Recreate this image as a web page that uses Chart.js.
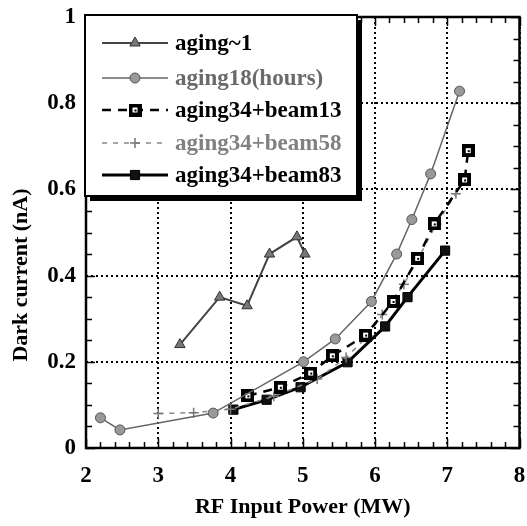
<!DOCTYPE html>
<html>
<head>
<meta charset="utf-8">
<script src="https://cdn.jsdelivr.net/npm/chart.js@4.4.1/dist/chart.umd.min.js"></script>
<style>
  html, body { margin: 0; padding: 0; background: #fff; }
  #wrap { width: 527px; height: 526px; }
</style>
</head>
<body>
<div id="wrap"><canvas id="chart" width="527" height="526"></canvas></div>
<script>
// values
const seriesNames = ['aging~1', 'aging18(hours)', 'aging34+beam13', 'aging34+beam58', 'aging34+beam83']

const aging1Power = [3.3, 3.85, 4.23, 4.54, 4.92, 5.03]
const aging1Current = [0.24, 0.35, 0.33, 0.45, 0.49, 0.45]

const aging18Power = [2.2, 2.47, 3.76, 5.01, 5.45, 5.95, 6.3, 6.51, 6.77, 7.17]
const aging18Current = [0.07, 0.042, 0.081, 0.2, 0.253, 0.34, 0.45, 0.53, 0.636, 0.828]

const beam13Power = [4.24, 4.69, 5.11, 5.41, 5.87, 6.25, 6.59, 6.82, 7.24, 7.29]
const beam13Current = [0.121, 0.141, 0.174, 0.214, 0.262, 0.34, 0.44, 0.52, 0.622, 0.69]

const beam58Power = [3.0, 3.49, 4.0, 4.6, 5.2, 5.6, 5.9, 6.1, 6.4, 6.6, 6.85, 7.12]
const beam58Current = [0.08, 0.082, 0.09, 0.12, 0.16, 0.21, 0.26, 0.31, 0.38, 0.44, 0.52, 0.59]

const beam83Power = [4.04, 4.5, 4.97, 5.62, 6.14, 6.45, 6.97]
const beam83Current = [0.089, 0.112, 0.141, 0.199, 0.282, 0.35, 0.458]

const xMin = 2, xMax = 8, xStep = 1, xMinor = 0.2
const yMin = 0, yMax = 1, yStep = 0.2, yMinor = 0.05

const FONT = "'Liberation Serif', 'Times New Roman', serif"

const toPoints = (xs, ys) => xs.map((x, i) => ({ x: x, y: ys[i] }))

// black square with a small white mark inside, like the beam13 symbol
const makeBoxMarker = () => {
  const c = document.createElement('canvas')
  c.width = 13
  c.height = 13
  const g = c.getContext('2d')
  g.fillStyle = '#000'
  g.fillRect(0, 0, 13, 13)
  g.fillStyle = '#fff'
  g.fillRect(4, 4, 5, 5)
  g.fillStyle = '#000'
  g.fillRect(6, 6, 2, 2)
  return c
}
const boxMarker = makeBoxMarker()

const frameAndTicks = {
  id: 'frameAndTicks',
  beforeDatasetsDraw(chart) {
    const { ctx, chartArea: a, scales } = chart
    const xs = scales.x, ys = scales.y
    ctx.save()
    ctx.strokeStyle = '#000'
    ctx.lineWidth = 1.5
    ctx.beginPath()
    for (let v = xMin; v <= xMax + 1e-9; v += xMinor) {
      const px = Math.round(xs.getPixelForValue(v)) + 0.5
      const major = Math.abs(v - Math.round(v)) < 1e-6
      const len = major ? 9 : 6
      ctx.moveTo(px, a.bottom); ctx.lineTo(px, a.bottom - len)
      ctx.moveTo(px, a.top); ctx.lineTo(px, a.top + len)
    }
    for (let v = yMin; v <= yMax + 1e-9; v += yMinor) {
      const py = Math.round(ys.getPixelForValue(v)) + 0.5
      const major = Math.abs(v / yStep - Math.round(v / yStep)) < 1e-6
      const len = major ? 9 : 6
      ctx.moveTo(a.left, py); ctx.lineTo(a.left + len, py)
      ctx.moveTo(a.right, py); ctx.lineTo(a.right - len, py)
    }
    ctx.stroke()
    ctx.lineWidth = 2.5
    ctx.strokeRect(a.left, a.top, a.right - a.left, a.bottom - a.top)
    ctx.restore()
  }
}

const boxLegend = {
  id: 'boxLegend',
  afterDatasetsDraw(chart) {
    const { ctx } = chart
    const bx = 85, by = 15, bw = 272, bh = 181
    ctx.save()
    ctx.fillStyle = '#000'
    ctx.fillRect(bx + 5, by + 5, bw, bh)
    ctx.fillStyle = '#fff'
    ctx.fillRect(bx, by, bw, bh)
    ctx.strokeStyle = '#000'
    ctx.lineWidth = 2
    ctx.strokeRect(bx, by, bw, bh)
    const rows = [43, 78, 110, 143, 175]
    const textColors = ['#000', '#6a6a6a', '#000', '#808080', '#000']
    chart.data.datasets.forEach((ds, i) => {
      const y = rows[i]
      ctx.save()
      ctx.strokeStyle = ds.borderColor
      ctx.lineWidth = ds.borderWidth
      ctx.setLineDash(ds.borderDash || [])
      ctx.beginPath()
      ctx.moveTo(102, y)
      ctx.lineTo(168, y)
      ctx.stroke()
      ctx.setLineDash([])
      ctx.fillStyle = ds.pointBackgroundColor
      ctx.strokeStyle = ds.pointBorderColor
      ctx.lineWidth = ds.pointBorderWidth
      Chart.helpers.drawPoint(ctx, {
        pointStyle: ds.pointStyle,
        radius: ds.pointRadius,
        rotation: 0,
        borderWidth: ds.pointBorderWidth
      }, 135, y)
      ctx.restore()
      ctx.fillStyle = textColors[i]
      ctx.font = 'bold 23px ' + FONT
      ctx.textBaseline = 'middle'
      ctx.textAlign = 'left'
      ctx.fillText(ds.label, 175, y + 1)
    })
    ctx.restore()
  }
}

const yTitle = {
  id: 'yTitle',
  afterDraw(chart) {
    const { ctx } = chart
    ctx.save()
    ctx.translate(21, 275)
    ctx.rotate(-Math.PI / 2)
    ctx.fillStyle = '#000'
    ctx.font = 'bold 22px ' + FONT
    ctx.textAlign = 'center'
    ctx.textBaseline = 'middle'
    ctx.fillText('Dark current (nA)', 0, 0)
    ctx.restore()
  }
}

new Chart(document.getElementById('chart'), {
  type: 'line',
  data: {
    datasets: [
      {
        label: seriesNames[0],
        data: toPoints(aging1Power, aging1Current),
        borderColor: '#444',
        borderWidth: 2,
        pointStyle: 'triangle',
        pointRadius: 6,
        pointBackgroundColor: '#777',
        pointBorderColor: '#333',
        pointBorderWidth: 1
      },
      {
        label: seriesNames[1],
        data: toPoints(aging18Power, aging18Current),
        borderColor: '#666',
        borderWidth: 1.5,
        pointStyle: 'circle',
        pointRadius: 5,
        pointBackgroundColor: '#999',
        pointBorderColor: '#555',
        pointBorderWidth: 1
      },
      {
        label: seriesNames[2],
        data: toPoints(beam13Power, beam13Current),
        borderColor: '#000',
        borderWidth: 2.5,
        borderDash: [9, 7],
        pointStyle: boxMarker,
        pointRadius: 6,
        pointBackgroundColor: '#000',
        pointBorderColor: '#000',
        pointBorderWidth: 0
      },
      {
        label: seriesNames[3],
        data: toPoints(beam58Power, beam58Current),
        borderColor: '#888',
        borderWidth: 1.5,
        borderDash: [5, 6],
        pointStyle: 'cross',
        pointRadius: 5,
        pointBackgroundColor: '#888',
        pointBorderColor: '#777',
        pointBorderWidth: 1.5
      },
      {
        label: seriesNames[4],
        data: toPoints(beam83Power, beam83Current),
        borderColor: '#000',
        borderWidth: 3,
        pointStyle: 'rect',
        pointRadius: 6.5,
        pointBackgroundColor: '#111',
        pointBorderColor: '#000',
        pointBorderWidth: 1
      }
    ]
  },
  options: {
    responsive: false,
    animation: false,
    layout: { padding: { top: 17, right: 6, left: 0, bottom: 0 } },
    plugins: {
      legend: { display: false },
      tooltip: { enabled: false }
    },
    scales: {
      x: {
        type: 'linear',
        min: xMin,
        max: xMax,
        afterFit: (s) => { s.height = 78; s.paddingLeft = 0; s.paddingRight = 0 },
        ticks: {
          stepSize: xStep,
          color: '#000',
          font: { family: FONT, size: 23, weight: 'bold' },
          padding: 14,
          maxRotation: 0
        },
        grid: { color: '#000', lineWidth: 2, drawTicks: false },
        border: { display: false, dash: [2, 3] },
        title: {
          display: true,
          text: 'RF Input Power (MW)',
          color: '#000',
          font: { family: FONT, size: 22, weight: 'bold' },
          padding: { top: 0, bottom: 5 }
        }
      },
      y: {
        min: yMin,
        max: yMax,
        afterFit: (s) => { s.width = 86; s.paddingTop = 0; s.paddingBottom = 0 },
        ticks: {
          stepSize: yStep,
          color: '#000',
          font: { family: FONT, size: 23, weight: 'bold' },
          padding: 10,
          callback: (v) => String(Number(v.toFixed(2)))
        },
        grid: { color: '#000', lineWidth: 2, drawTicks: false },
        border: { display: false, dash: [2, 3] }
      }
    }
  },
  plugins: [frameAndTicks, boxLegend, yTitle]
})
</script>
</body>
</html>
